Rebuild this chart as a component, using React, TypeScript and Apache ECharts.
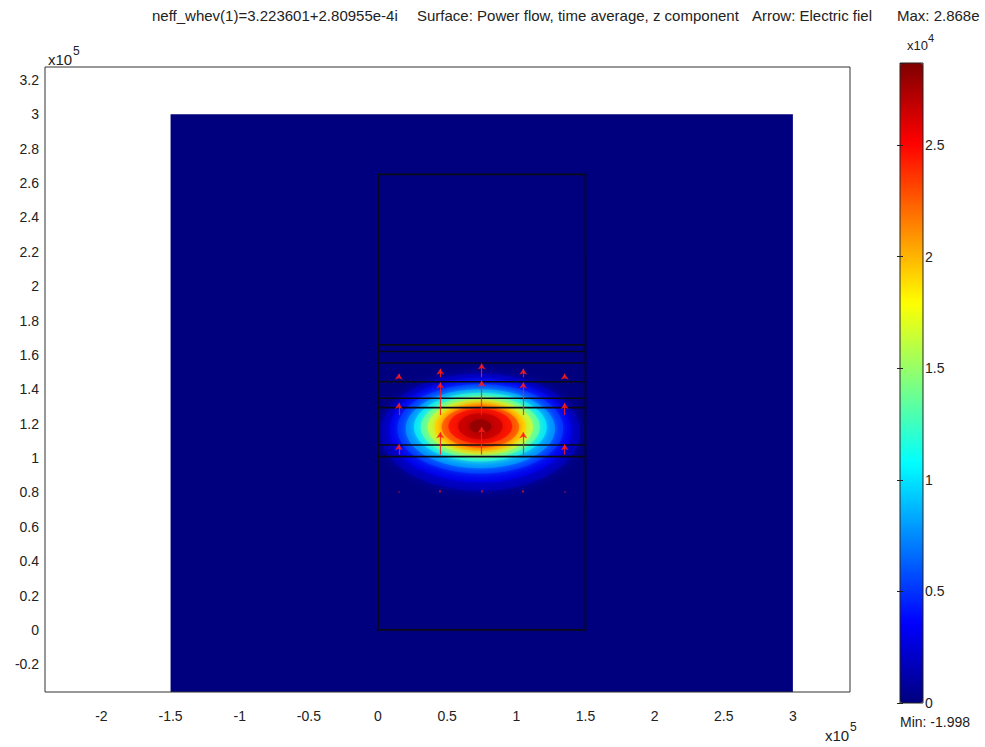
import React, { useEffect, useRef } from "react";
import * as echarts from "echarts";

// ---- axis ticks ----
const xTickValues = [-2, -1.5, -1, -0.5, 0, 0.5, 1, 1.5, 2, 2.5, 3];
const yTickValues = [-0.2, 0, 0.2, 0.4, 0.6, 0.8, 1, 1.2, 1.4, 1.6, 1.8, 2, 2.2, 2.4, 2.6, 2.8, 3, 3.2];
const xRange = [-2.408, 3.413];
const yRange = [-0.361, 3.275];

// ---- colour scale (surface: power flow, z component, x10^4) ----
const fieldMin = 0;
const fieldMax = 2.868;
const jetColors = ["#00007F", "#0000FF", "#007FFF", "#00FFFF", "#7FFF7F", "#FFFF00", "#FF7F00", "#FF0000", "#7F0000"];

// ---- computational domain (x0, y0, x1, y1, value) ----
const domainBox = [-1.5, -0.5, 3, 3, 0];

// ---- mode field read as nested iso-levels ----
const levelValues = [0.15, 0.3, 0.5, 0.75, 1.0, 1.3, 1.6, 1.9, 2.2, 2.45, 2.65, 2.8];
const levelCenterX = [0.74, 0.74, 0.74, 0.74, 0.74, 0.74, 0.74, 0.74, 0.74, 0.74, 0.74, 0.74];
const levelCenterY = [1.15, 1.16, 1.17, 1.17, 1.18, 1.18, 1.18, 1.18, 1.18, 1.185, 1.185, 1.185];
const levelHalfWidth = [0.72, 0.66, 0.6, 0.54, 0.48, 0.43, 0.38, 0.33, 0.28, 0.23, 0.16, 0.08];
const levelHalfHeight = [0.34, 0.3, 0.26, 0.23, 0.2, 0.18, 0.16, 0.14, 0.12, 0.1, 0.075, 0.04];

// ---- geometry lines ----
const waveguideOutline = [[0, 0], [1.5, 0], [1.5, 2.65], [0, 2.65], [0, 0]];
const layerBoundaries = [1.008, 1.076, 1.293, 1.348, 1.444, 1.553, 1.62, 1.658];
const layerX = [0, 1.5];

// ---- electric field arrows ----
const arrowX = [0.15, 0.45, 0.75, 1.05, 1.35];
const arrowRowY = [1.02, 1.25, 1.47];
const arrowLengths = [
  [0.06, 0.13, 0.16, 0.13, 0.06],
  [0.07, 0.19, 0.2, 0.19, 0.07],
  [0.02, 0.05, 0.08, 0.05, 0.02],
];
const dotRowY = 0.8;
const dotLengths = [0.006, 0.012, 0.012, 0.012, 0.006];

const FONT = "'Liberation Sans', Arial, sans-serif";

export default function App() {
  const ref = useRef<HTMLDivElement>(null);

  useEffect(() => {
    if (!ref.current) return;
    const chart = echarts.init(ref.current, null, { renderer: "svg" });

    const levelData = levelValues.map((v, i) => [
      levelCenterX[i],
      levelCenterY[i],
      levelHalfWidth[i],
      levelHalfHeight[i],
      v,
    ]);

    const layerLines = layerBoundaries.map((y) => ({ coords: [[layerX[0], y], [layerX[1], y]] }));
    const arrowData: any[] = [];
    arrowRowY.forEach((y, r) => {
      arrowX.forEach((x, c) => {
        arrowData.push({ coords: [[x, y], [x, y + arrowLengths[r][c]]] });
      });
    });
    const dotData = arrowX.map((x, c) => ({ coords: [[x, dotRowY], [x, dotRowY + dotLengths[c]]] }));

    const txt = (text: string, x: number, y: number, size: number, extra: any = {}) => ({
      type: "text",
      x,
      y,
      z: 100,
      style: {
        text,
        fill: "#222",
        font: `${size}px ${FONT}`,
        fontSize: size,
        fontFamily: FONT,
        align: "left",
        verticalAlign: "middle",
        textAlign: "left",
        textVerticalAlign: "middle",
        ...extra,
      },
    });

    const option: any = {
      animation: false,
      backgroundColor: "#ffffff",
      textStyle: { fontFamily: FONT },
      grid: [
        {
          left: 45,
          top: 67,
          width: 805,
          height: 625,
          show: true,
          borderColor: "#333",
          borderWidth: 1,
          backgroundColor: "transparent",
          z: 10,
        },
        {
          left: 900,
          top: 63,
          width: 23,
          height: 640,
          show: true,
          borderColor: "#222",
          borderWidth: 1,
          backgroundColor: "transparent",
          z: 10,
        },
      ],
      xAxis: [
        {
          type: "value",
          gridIndex: 0,
          min: xRange[0],
          max: xRange[1],
          axisLine: { show: false },
          axisTick: { show: false },
          splitLine: { show: false },
          axisLabel: {
            customValues: xTickValues,
            color: "#222",
            fontSize: 14,
            fontFamily: FONT,
            margin: 17,
          },
        },
        {
          type: "value",
          gridIndex: 1,
          min: 0,
          max: 1,
          show: false,
        },
      ],
      yAxis: [
        {
          type: "value",
          gridIndex: 0,
          min: yRange[0],
          max: yRange[1],
          axisLine: { show: false },
          axisTick: { show: false },
          splitLine: { show: false },
          axisLabel: {
            customValues: yTickValues,
            color: "#222",
            fontSize: 14,
            fontFamily: FONT,
            margin: 6,
          },
        },
        {
          type: "value",
          gridIndex: 1,
          position: "right",
          min: fieldMin,
          max: fieldMax,
          interval: 0.5,
          z: 12,
          axisLine: { show: false },
          axisTick: { show: true, inside: true, length: 3, lineStyle: { color: "#222" } },
          splitLine: { show: false },
          axisLabel: {
            showMaxLabel: false,
            color: "#222",
            fontSize: 14,
            fontFamily: FONT,
            margin: 2,
          },
        },
        {
          type: "value",
          gridIndex: 1,
          position: "left",
          min: fieldMin,
          max: fieldMax,
          interval: 0.5,
          z: 12,
          axisLine: { show: false },
          axisTick: { show: true, inside: true, length: 3, lineStyle: { color: "#222" } },
          splitLine: { show: false },
          axisLabel: { show: false },
        },
      ],
      visualMap: {
        type: "continuous",
        min: fieldMin,
        max: fieldMax,
        dimension: 4,
        seriesIndex: [0, 1],
        calculable: false,
        realtime: false,
        left: 900,
        top: 63,
        itemWidth: 23,
        itemHeight: 640,
        padding: 0,
        text: ["", ""],
        showLabel: false,
        z: 2,
        inRange: { color: jetColors },
      },
      series: [
        {
          type: "custom",
          name: "domain",
          coordinateSystem: "cartesian2d",
          xAxisIndex: 0,
          yAxisIndex: 0,
          clip: true,
          data: [domainBox],
          renderItem: (params: any, api: any) => {
            const p0 = api.coord([api.value(0), api.value(3)]);
            const p1 = api.coord([api.value(2), api.value(1)]);
            return {
              type: "rect",
              shape: { x: p0[0], y: p0[1], width: p1[0] - p0[0], height: p1[1] - p0[1] },
              style: { fill: api.visual("color") },
            };
          },
        },
        {
          type: "custom",
          name: "Power flow",
          coordinateSystem: "cartesian2d",
          xAxisIndex: 0,
          yAxisIndex: 0,
          clip: true,
          data: levelData,
          renderItem: (params: any, api: any) => {
            const c = api.coord([api.value(0), api.value(1)]);
            const s = api.size([api.value(2), api.value(3)]);
            const col = api.visual("color");
            return {
              type: "ellipse",
              shape: { cx: c[0], cy: c[1], rx: s[0], ry: s[1] },
              style: { fill: col, shadowBlur: 10, shadowColor: col },
            };
          },
        },
        {
          type: "lines",
          name: "outline",
          coordinateSystem: "cartesian2d",
          xAxisIndex: 0,
          yAxisIndex: 0,
          polyline: true,
          silent: true,
          symbol: "none",
          lineStyle: { color: "#0a0a14", width: 1.7, opacity: 1 },
          data: [{ coords: waveguideOutline }, ...layerLines],
        },
        {
          type: "lines",
          name: "Electric field",
          coordinateSystem: "cartesian2d",
          xAxisIndex: 0,
          yAxisIndex: 0,
          silent: true,
          symbol: ["none", "arrow"],
          symbolSize: 6,
          lineStyle: { color: "#ff1a1a", width: 1.2, opacity: 0.85 },
          data: arrowData,
        },
        {
          type: "lines",
          name: "Electric field small",
          coordinateSystem: "cartesian2d",
          xAxisIndex: 0,
          yAxisIndex: 0,
          silent: true,
          symbol: ["none", "none"],
          lineStyle: { color: "#ff1a1a", width: 2, opacity: 0.6 },
          data: dotData,
        },
      ],
      graphic: [
        txt("neff_whev(1)=3.223601+2.80955e-4i", 152, 15, 15),
        txt("Surface: Power flow, time average, z component", 417, 15, 15),
        txt("Arrow: Electric fiel", 752, 15, 15),
        txt("Max: 2.868e", 897, 15, 15),
        txt("x10", 907, 45, 13),
        txt("4", 928, 38, 11),
        txt("x10", 48, 59, 15),
        txt("5", 73, 51, 12),
        txt("x10", 825, 735, 15),
        txt("5", 850, 727, 12),
        txt("Min: -1.998", 900, 722, 14),
      ],
    };

    chart.setOption(option);
    return () => chart.dispose();
  }, []);

  return (
    <div
      ref={ref}
      style={{ position: "fixed", left: 0, top: 0, width: 985, height: 747, background: "#fff" }}
    />
  );
}
